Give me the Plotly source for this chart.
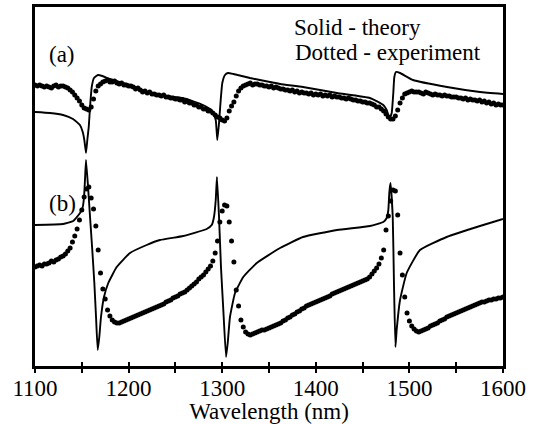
import plotly.graph_objects as go

# ---------------- data (arbitrary units) ----------------
# Theory (solid) curve (a)
theory_a_wl = [1100, 1116, 1130, 1140.6, 1148, 1151, 1152.7, 1154.5, 1155.9, 1157.4, 1158.8, 1160.6,
               1163, 1167.3, 1172, 1180, 1201.5, 1222.9, 1240, 1258, 1279.5, 1287, 1290.2, 1293.1,
               1294.8, 1296.6, 1298.4, 1300.1, 1303, 1306.2, 1312, 1329.7, 1351, 1362, 1386.3,
               1422.6, 1457.9, 1472.1, 1475.7, 1477.5, 1479.3, 1481.1, 1482.8, 1483.9, 1485.7,
               1490, 1503.8, 1540.2, 1575.4, 1600]
theory_a_val = [288, 287, 285, 281, 275, 268, 260, 247, 260, 273, 293, 313,
                322, 325, 324, 321, 315, 307, 304, 302, 295, 291, 287, 280,
                260, 277, 300, 317, 325, 327, 326, 322, 318, 316, 313,
                307, 302, 295, 290, 285, 283, 287, 307, 323, 328,
                327, 320, 313, 308, 306]

# Theory (solid) curve (b)
theory_b_wl = [1100, 1130, 1140.9, 1148.1, 1151, 1152.4, 1153.4, 1154.5, 1156.9, 1158.8, 1161.2,
               1163.4, 1165.2, 1167, 1168.7, 1170.5, 1173.7, 1178.3, 1187.3, 1201.5, 1219.3,
               1233.5, 1258.4, 1283.4, 1288.8, 1291.2, 1293.1, 1294.4, 1296.6, 1298.7, 1301.2,
               1304.1, 1305.9, 1308.3, 1313.7, 1322.5, 1336.9, 1361.8, 1386.3, 1422.6, 1457.9,
               1472.1, 1475.7, 1477.5, 1478.5, 1479.8, 1482.2, 1483.5, 1485.1, 1486.4, 1490,
               1497.1, 1511.3, 1539.8, 1575.4, 1600]
theory_b_val = [175, 176, 179, 187, 193, 203, 220, 240, 210, 183, 150,
                117, 83, 50, 63, 83, 103, 117, 133, 147, 155,
                160, 164, 171, 175, 183, 200, 223, 183, 133, 90,
                43, 57, 83, 107, 123, 137, 152, 163, 170, 174,
                178, 182, 190, 207, 217, 183, 117, 53, 70, 100,
                127, 150, 163, 174, 181]

# Experiment (dotted): sampled every 2.5 nm from 1100 to 1600 nm
exp_wl = [1100 + 2.5 * k for k in range(201)]
exp_a_val = [315, 314, 315, 314, 313, 314, 313, 312, 314, 315, 313, 314, 314, 313, 312,
             310, 308, 305, 302, 299, 295, 292, 291, 290, 293, 301, 309, 314, 316, 318,
             319, 320, 318, 318, 319, 317, 316, 317, 315, 315, 314, 314, 313, 311, 312,
             310, 308, 309, 307, 308, 306, 306, 305, 305, 304, 305, 303, 303, 302, 302,
             301, 301, 300, 300, 298, 299, 297, 297, 295, 295, 293, 293, 291, 291, 289,
             289, 287, 285, 283, 282, 280, 279, 282, 289, 294, 298, 304, 309, 312, 314,
             315, 316, 317, 315, 316, 316, 315, 315, 314, 314, 313, 314, 312, 313, 312,
             311, 311, 310, 310, 309, 310, 308, 309, 307, 308, 307, 307, 306, 307, 305,
             306, 305, 306, 304, 305, 304, 305, 303, 304, 303, 303, 302, 302, 301, 302,
             301, 300, 300, 299, 299, 298, 298, 297, 297, 296, 295, 293, 293, 291, 289,
             286, 283, 281, 281, 284, 290, 297, 302, 306, 307, 308, 309, 308, 308, 308,
             307, 306, 308, 307, 306, 305, 306, 305, 305, 304, 305, 304, 304, 303, 303,
             303, 302, 302, 301, 302, 300, 301, 300, 300, 299, 300, 298, 299, 297, 298,
             296, 297, 295, 296, 295, 295]
exp_b_val = [133, 134, 135, 134, 136, 136, 137, 139, 138, 140, 141, 143, 144, 146, 149,
             152, 158, 164, 171, 180, 190, 203, 211, 213, 202, 191, 174, 150, 127, 111,
             101, 90, 84, 80, 78, 77, 77, 78, 79, 80, 81, 82, 83, 84, 85,
             86, 87, 88, 89, 90, 91, 92, 93, 94, 95, 96, 98, 99, 100, 102,
             103, 104, 106, 107, 108, 110, 112, 114, 116, 118, 121, 123, 125, 128, 131,
             134, 139, 147, 159, 178, 189, 195, 194, 178, 159, 138, 110, 94, 80, 73,
             68, 66, 65, 66, 67, 68, 69, 70, 70, 71, 72, 73, 74, 75, 76,
             77, 79, 80, 82, 83, 85, 86, 88, 89, 91, 92, 94, 95, 96, 97,
             98, 99, 100, 101, 102, 103, 104, 106, 107, 108, 109, 110, 111, 112, 113,
             114, 115, 116, 117, 118, 119, 120, 121, 123, 126, 129, 132, 136, 142, 150,
             170, 184, 199, 210, 209, 185, 147, 125, 103, 87, 79, 74, 71, 69, 68,
             69, 70, 71, 72, 74, 75, 76, 77, 79, 80, 81, 83, 84, 85, 86,
             87, 88, 89, 90, 91, 92, 93, 94, 95, 96, 97, 98, 98, 99, 100,
             100, 101, 101, 102, 102, 103]

tick_vals = [1100, 1150, 1200, 1250, 1300, 1350, 1400, 1450, 1500, 1550, 1600]
tick_text = ["1100", "", "1200", "", "1300", "", "1400", "", "1500", "", "1600"]

FONT = "Liberation Serif"
TXT = dict(family=FONT, size=23, color="black")

fig = go.Figure()
fig.add_trace(go.Scatter(x=theory_a_wl, y=theory_a_val, mode="lines",
                         line=dict(color="black", width=1.9, shape="spline", smoothing=0.4),
                         showlegend=False))
fig.add_trace(go.Scatter(x=theory_b_wl, y=theory_b_val, mode="lines",
                         line=dict(color="black", width=1.9, shape="spline", smoothing=0.4),
                         showlegend=False))
fig.add_trace(go.Scatter(x=exp_wl, y=exp_a_val, mode="markers",
                         marker=dict(color="black", size=5), showlegend=False))
fig.add_trace(go.Scatter(x=exp_wl, y=exp_b_val, mode="markers",
                         marker=dict(color="black", size=5), showlegend=False))
# helper trace so the inner-tick axis is drawn
fig.add_trace(go.Scatter(x=[1100, 1600], y=[None, None], xaxis="x2", mode="lines",
                         showlegend=False, hoverinfo="skip"))

fig.update_layout(
    width=533, height=424,
    margin=dict(l=35, r=30, t=7, b=58, autoexpand=False),
    paper_bgcolor="white", plot_bgcolor="white",
    xaxis=dict(range=[1100, 1600], tickvals=tick_vals, ticktext=tick_text,
               ticks="outside", ticklen=4, tickwidth=1.5, tickcolor="black",
               ticklabelstandoff=-4,
               showline=True, linecolor="black", linewidth=2.5, mirror=True,
               showgrid=False, zeroline=False, automargin=False,
               tickfont=TXT,
               title=dict(text="Wavelength (nm)", font=TXT, standoff=10)),
    xaxis2=dict(range=[1100, 1600], overlaying="x", anchor="y", side="bottom",
                tickvals=tick_vals, showticklabels=False, automargin=False,
                ticks="inside", ticklen=4, tickwidth=1.5, tickcolor="black",
                showline=False, showgrid=False, zeroline=False),
    yaxis=dict(range=[34, 393], showticklabels=False, ticks="", automargin=False,
               showline=True, linecolor="black", linewidth=2.5, mirror=True,
               showgrid=False, zeroline=False),
    annotations=[
        dict(text="Solid - theory", xref="paper", yref="paper", x=0.549, y=0.944,
             xanchor="left", yanchor="middle", showarrow=False, font=TXT),
        dict(text="Dotted - experiment", xref="paper", yref="paper", x=0.551, y=0.872,
             xanchor="left", yanchor="middle", showarrow=False, font=TXT),
        dict(text="(a)", xref="paper", yref="paper", x=0.026, y=0.869,
             xanchor="left", yanchor="middle", showarrow=False, font=TXT),
        dict(text="(b)", xref="paper", yref="paper", x=0.026, y=0.452,
             xanchor="left", yanchor="middle", showarrow=False, font=TXT),
    ],
)

fig.write_html("out.html")
